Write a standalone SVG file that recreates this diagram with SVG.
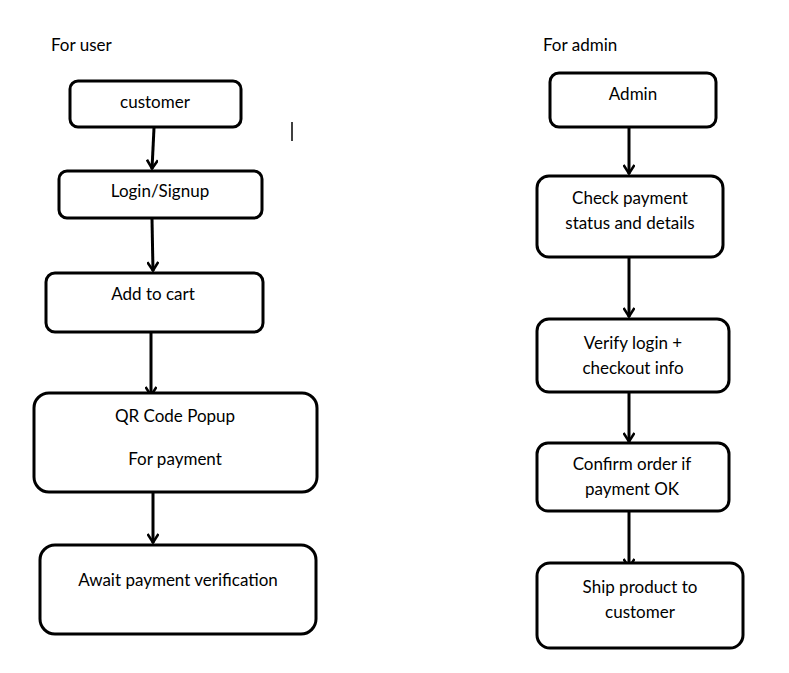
<svg xmlns="http://www.w3.org/2000/svg" width="789" height="673" viewBox="0 0 789 673">
<defs>
<style>
.box{fill:#fff;stroke:#000;stroke-width:3}
.t{font-family:Lato,"Open Sans",sans-serif;font-size:17px;fill:#000;text-anchor:middle}
.h{font-family:Lato,"Open Sans",sans-serif;font-size:17px;fill:#000}
.c{fill:none;stroke:#000;stroke-width:3}
</style>
<marker id="ah" viewBox="0 0 12 12" refX="11" refY="6" markerWidth="12" markerHeight="12" markerUnits="userSpaceOnUse" orient="auto">
<path d="M2,0.5 L10.5,6 L2,11.5" fill="none" stroke="#000" stroke-width="2.6" stroke-linejoin="miter"/>
</marker>
</defs>
<rect width="789" height="673" fill="#fff"/>
<text class="h" x="51" y="51">For user</text>
<text class="h" x="543" y="51">For admin</text>
<line x1="292" y1="122" x2="292" y2="141" stroke="#000" stroke-width="1.5"/>
<g id="connectors">
<path class="c" d="M154,128 L152,169" marker-end="url(#ah)"/>
<path class="c" d="M152,219 L153,271" marker-end="url(#ah)"/>
<path class="c" d="M151,333 L151,396" marker-end="url(#ah)"/>
<path class="c" d="M153,493 L153,543" marker-end="url(#ah)"/>
<path class="c" d="M629,128 L629,174" marker-end="url(#ah)"/>
<path class="c" d="M629,258 L629,317" marker-end="url(#ah)"/>
<path class="c" d="M629,393 L629,442" marker-end="url(#ah)"/>
<path class="c" d="M629,512 L629,568" marker-end="url(#ah)"/>
</g>
<g id="customer"><rect class="box" x="70" y="81" width="171" height="46" rx="8"/><text class="t" x="155" y="108">customer</text></g>
<g id="login"><rect class="box" x="59" y="171" width="203" height="47" rx="8"/><text class="t" x="160" y="197">Login/Signup</text></g>
<g id="cart"><rect class="box" x="46" y="273" width="217" height="59" rx="9"/><text class="t" x="153" y="300">Add to cart</text></g>
<g id="qr"><rect class="box" x="34" y="393" width="283" height="99" rx="15"/><text class="t" x="175" y="422">QR Code Popup</text><text class="t" x="175" y="465">For payment</text></g>
<g id="await"><rect class="box" x="40" y="545" width="276" height="89" rx="15"/><text class="t" x="178" y="586">Await payment verification</text></g>
<g id="admin"><rect class="box" x="550" y="73" width="166" height="54" rx="9"/><text class="t" x="633" y="100">Admin</text></g>
<g id="check"><rect class="box" x="537" y="176" width="186" height="81" rx="12"/><text class="t" x="630" y="204">Check payment</text><text class="t" x="630" y="229">status and details</text></g>
<g id="verify"><rect class="box" x="537" y="319" width="192" height="73" rx="12"/><text class="t" x="633" y="349">Verify login +</text><text class="t" x="633" y="374">checkout info</text></g>
<g id="confirm"><rect class="box" x="537" y="443" width="192" height="68" rx="11"/><text class="t" x="632" y="470">Confirm order if</text><text class="t" x="632" y="495">payment OK</text></g>
<g id="ship"><rect class="box" x="537" y="563" width="206" height="85" rx="13"/><text class="t" x="640" y="593">Ship product to</text><text class="t" x="640" y="618">customer</text></g>
</svg>
